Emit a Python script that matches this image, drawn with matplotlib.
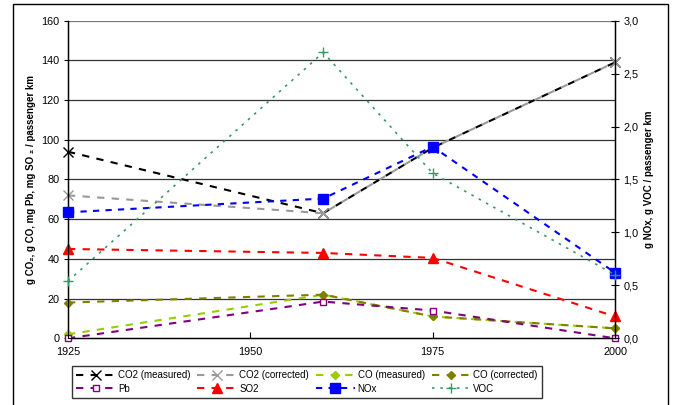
import matplotlib
matplotlib.use("Agg")
import matplotlib.pyplot as plt
from matplotlib.patches import Rectangle

plt.rcParams['font.family'] = ['Liberation Sans', 'DejaVu Sans']

# donnees
annees = [1925, 1960, 1975, 2000]
co2_mesure = [94, 63, 96, 139]
co2_corrige = [72, 63, 96, 139]
co_mesure = [2, 22, 11, 5]
co_corrige = [18, 22, 11, 5]
pb = [0, 18.5, 14, 0]
so2 = [45, 43, 40.5, 11]
# axe de droite
nox = [1.19, 1.32, 1.81, 0.62]
voc = [0.54, 2.70, 1.56, 0.60]

noms = ["CO2 (measured)", "CO2 (corrected)", "CO (measured)", "CO (corrected)",
        "Pb", "SO2", "NOx", "VOC"]

fig = plt.figure(figsize=(6.77, 4.05), dpi=100)
ax = fig.add_axes([68 / 677, 1 - 338.3 / 405, 547 / 677, 317.6 / 405])
ax2 = ax.twinx()

series = [
    (ax, co2_mesure, 'black', 'x', 'black', 'black', 7.5, 1.5, (3.5, 3.5), 1),
    (ax, co2_corrige, '#999999', 'x', '#999999', '#999999', 7.5, 1.5, (3.5, 3.5), 2),
    (ax, co_mesure, '#99cc00', 'D', '#99cc00', '#99cc00', 4.5, 1.5, (3.5, 3.5), 3),
    (ax, co_corrige, '#808000', 'D', '#808000', '#808000', 4.5, 1.5, (3.5, 3.5), 4),
    (ax, pb, '#800080', 's', 'white', '#800080', 5, 1.5, (3.5, 3.5), 5),
    (ax, so2, '#ff0000', '^', '#ff0000', '#ff0000', 7, 1.5, (3.5, 3.5), 6),
    (ax2, nox, '#0000ff', 's', '#0000ff', '#0000ff', 6.5, 1.5, (3, 3), 7),
    (ax2, voc, '#339966', '+', '#339966', '#339966', 7, 1.2, (1.5, 3.5), 8),
]

poignees = []
for (a, vals, coul, mk, face, bord, taille, lw, tirets, z), nom in zip(series, noms):
    ligne, = a.plot(annees, vals, color=coul, linewidth=lw, linestyle=(0, tirets),
                    marker=mk, markersize=taille, markerfacecolor=face,
                    markeredgecolor=bord, markeredgewidth=1.0, zorder=z,
                    clip_on=False, label=nom, dash_capstyle='butt')
    poignees.append(ligne)

ax.set_xlim(1925, 2000)
ax.set_ylim(0, 160)
ax2.set_ylim(0, 3.0)
ax.set_xticks([1925, 1950, 1975, 2000])
ax.set_yticks(range(0, 161, 20))
ax2.set_yticks([0, 0.5, 1.0, 1.5, 2.0, 2.5, 3.0])
ax2.set_yticklabels(["0,0", "0,5", "1,0", "1,5", "2,0", "2,5", "3,0"])

for y in range(20, 161, 20):
    ax.axhline(y, color='#777777' if y == 160 else '#333333', linewidth=0.9, zorder=0)

ax.spines['top'].set_visible(False)
ax2.spines['top'].set_visible(False)
for s in ['left', 'bottom']:
    ax.spines[s].set_linewidth(1.0)
ax2.spines['right'].set_linewidth(1.0)

ax.tick_params(axis='x', direction='in', length=4, labelsize=7.8, pad=6)
ax.tick_params(axis='y', direction='out', length=3, labelsize=7.8, pad=3)
ax2.tick_params(axis='y', direction='inout', length=6, labelsize=7.8, pad=3)

ax.set_ylabel("g CO\u2082, g CO, mg Pb, mg SO \u2082 / passenger km",
              fontsize=7, fontweight='bold', labelpad=4)
ax2.set_ylabel("g NOx, g VOC / passenger km", fontsize=7, fontweight='bold',
               labelpad=4)

ordre = [0, 4, 1, 5, 2, 6, 3, 7]
leg = fig.legend([poignees[i] for i in ordre], [noms[i] for i in ordre],
                 ncol=4, loc='lower left',
                 bbox_to_anchor=(67 / 677, 2 / 405, 480 / 677, 35 / 405),
                 mode='expand', fontsize=7, handlelength=4, frameon=True,
                 fancybox=False, edgecolor='black', borderpad=0.45,
                 labelspacing=0.35, handletextpad=0.3, columnspacing=1.0)
leg.get_frame().set_linewidth(1.0)

# cadre exterieur
fig.add_artist(Rectangle((12.5 / 677, -0.05), (668 - 12.5) / 677, 1.05 - 4 / 405,
                         transform=fig.transFigure, fill=False,
                         edgecolor='black', linewidth=1.0))

fig.savefig("out.png", dpi=100)
